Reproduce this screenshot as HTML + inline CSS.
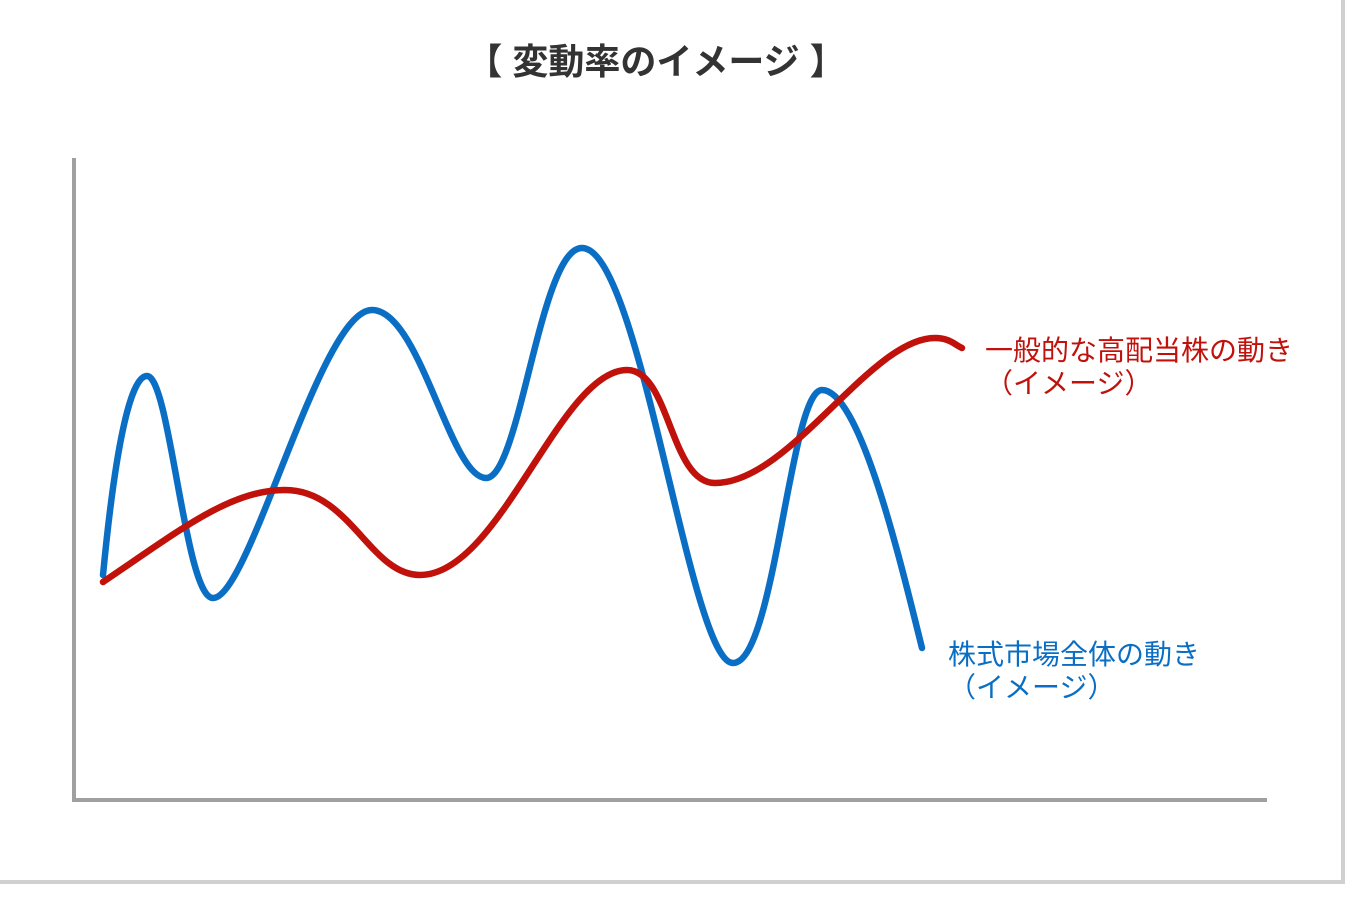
<!DOCTYPE html>
<html><head><meta charset="utf-8"><style>
body{margin:0;width:1360px;height:894px;background:#fff;overflow:hidden;font-family:"Liberation Sans","Noto Sans CJK JP",sans-serif}
</style></head><body>
<svg width="1360" height="894" xmlns="http://www.w3.org/2000/svg">
<rect x="-4" y="-4" width="1347" height="886" fill="#fff" stroke="#d0d0d0" stroke-width="4"/>
<text x="656" y="74" text-anchor="middle" font-size="36" font-weight="bold" fill="#333" font-family="Liberation Sans, Noto Sans CJK JP, sans-serif">【 変動率のイメージ 】</text>
<path d="M74,158 V800 H1267" fill="none" stroke="#a0a0a0" stroke-width="4"/>
<path d="M103,575 C115,450 130,376 147,376 C170,376 185,598 213,598 C250,598 320,310 372,310 C420,310 450,478 486,478 C520,478 540,248 582,248 C640,248 690,663 733,663 C775,663 790,390 822,390 C860,390 900,560 922,648" fill="none" stroke="#0a6fc4" stroke-width="6.5" stroke-linecap="round"/>
<path d="M103,582 C180,530 230,490 285,490 C350,490 370,575 420,575 C500,575 560,370 627,370 C670,370 670,483 715,483 C790,483 870,338 935,338 C950,338 955,345 962,348" fill="none" stroke="#c0110b" stroke-width="6.5" stroke-linecap="round"/>
<g font-family="Liberation Sans, Noto Sans CJK JP, sans-serif" font-size="28">
<text x="985" y="360" fill="#c0110b">一般的な高配当株の動き</text>
<text x="985" y="393" fill="#c0110b">（イメージ）</text>
<text x="948" y="664" fill="#0a6fc4">株式市場全体の動き</text>
<text x="948" y="697" fill="#0a6fc4">（イメージ）</text>
</g>
</svg>
</body></html>
